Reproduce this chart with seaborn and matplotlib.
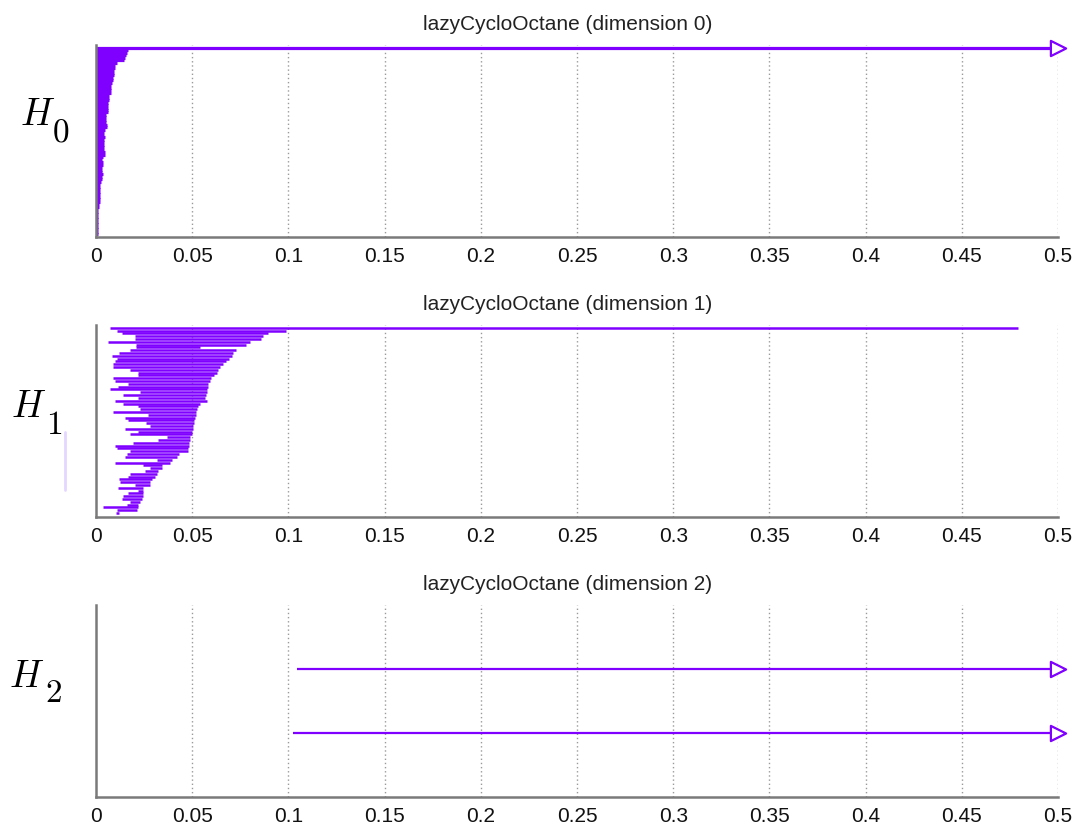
import numpy as np
import pandas as pd
import matplotlib
matplotlib.use("Agg")
import matplotlib.pyplot as plt
import seaborn as sns

# ---- data -------------------------------------------------------------
dataset_name = "lazyCycloOctane"
x_ticks = [0, 0.05, 0.1, 0.15, 0.2, 0.25, 0.3, 0.35, 0.4, 0.45, 0.5]
x_tick_labels = ["0", "0.05", "0.1", "0.15", "0.2", "0.25", "0.3",
                 "0.35", "0.4", "0.45", "0.5"]
x_max = 0.5

# H0: every class is born at 0; the first one never dies
h0_deaths = [np.inf,
             0.0166, 0.0163, 0.0158, 0.0152, 0.0146, 0.0110, 0.0099, 0.0097,
             0.0095, 0.0094, 0.0093, 0.0087, 0.0086, 0.0085, 0.0080, 0.0079,
             0.0078, 0.0076, 0.0066, 0.0065, 0.0065, 0.0064, 0.0064, 0.0063,
             0.0063, 0.0062, 0.0054, 0.0052, 0.0051, 0.0050, 0.0056, 0.0055,
             0.0048, 0.0044, 0.0043, 0.0045, 0.0044, 0.0043, 0.0042, 0.0043,
             0.0042, 0.0046, 0.0045, 0.0034, 0.0033, 0.0035, 0.0034, 0.0033,
             0.0031, 0.0032, 0.0034, 0.0033, 0.0030, 0.0024, 0.0022, 0.0023,
             0.0022, 0.0021, 0.0022, 0.0020, 0.0021, 0.0019, 0.0014, 0.0013,
             0.0012, 0.0011, 0.0012, 0.0011, 0.0010, 0.0010, 0.0011, 0.0010,
             0.0010, 0.0009, 0.0009]
h0_births = [0.0] * len(h0_deaths)

h1_births = [0.0073, 0.0107, 0.0133, 0.0203, 0.0203, 0.0064, 0.0210, 0.0210,
             0.0177, 0.0120, 0.0081, 0.0107, 0.0098, 0.0087, 0.0090, 0.0177,
             0.0220, 0.0220, 0.0090, 0.0099, 0.0168, 0.0116, 0.0073, 0.0229,
             0.0142, 0.0220, 0.0099, 0.0142, 0.0220, 0.0229, 0.0090, 0.0272,
             0.0151, 0.0168, 0.0260, 0.0280, 0.0151, 0.0220, 0.0177, 0.0370,
             0.0324, 0.0190, 0.0099, 0.0107, 0.0177, 0.0160, 0.0151, 0.0315,
             0.0099, 0.0246, 0.0280, 0.0255, 0.0177, 0.0168, 0.0120, 0.0125,
             0.0203, 0.0116, 0.0220, 0.0168, 0.0142, 0.0133, 0.0177, 0.0160,
             0.0038, 0.0107, 0.0104]
h1_deaths = [0.4790, 0.0990, 0.0896, 0.0866, 0.0860, 0.0800, 0.0780, 0.0540,
             0.0730, 0.0714, 0.0705, 0.0690, 0.0676, 0.0662, 0.0645, 0.0636,
             0.0627, 0.0613, 0.0600, 0.0590, 0.0584, 0.0580, 0.0575, 0.0575,
             0.0572, 0.0566, 0.0575, 0.0540, 0.0530, 0.0523, 0.0520, 0.0520,
             0.0515, 0.0510, 0.0510, 0.0506, 0.0506, 0.0500, 0.0497, 0.0490,
             0.0490, 0.0485, 0.0485, 0.0480, 0.0480, 0.0433, 0.0423, 0.0393,
             0.0385, 0.0341, 0.0341, 0.0324, 0.0315, 0.0307, 0.0289, 0.0280,
             0.0280, 0.0246, 0.0246, 0.0246, 0.0243, 0.0237, 0.0229, 0.0220,
             0.0220, 0.0211, 0.0121]

h2_births = [0.1045, 0.1024]
h2_deaths = [np.inf, np.inf]

group_symbol = "H"
group_indices = ["0", "1", "2"]

bar_color = "#8000ff"
axis_gray = "#7a7a7a"

# ---- style ------------------------------------------------------------
sns.set_theme(style="white")
plt.rcParams["font.family"] = ["Liberation Sans", "DejaVu Sans"]
plt.rcParams["mathtext.fontset"] = "cm"

W, H = 1076, 826
fig = plt.figure(figsize=(W / 100, H / 100), dpi=100)


def px_axes(top, bottom, left=96, right=1058):
    return fig.add_axes([left / W, 1 - bottom / H, (right - left) / W,
                         (bottom - top) / H])


def barcode(ax, births, deaths, dim, ylim, lw=1.6):
    df = pd.DataFrame({"birth": births, "death": deaths})
    df["row"] = np.arange(len(df))
    df["infinite"] = ~np.isfinite(df["death"])
    df["end"] = df["death"].where(~df["infinite"], x_max)

    for xt in x_ticks[1:]:
        ax.axvline(xt, color="#9a9a9a", lw=1.0, ls=(0, (1, 2)), zorder=0)

    ax.hlines(df["row"], df["birth"], df["end"], color=bar_color, lw=lw,
              zorder=2)
    inf_rows = df[df["infinite"]]
    if len(inf_rows):
        sns.scatterplot(data=inf_rows, x="end", y="row", marker=">", s=120,
                        facecolor="white", edgecolor=bar_color, linewidth=1.6,
                        ax=ax, zorder=3, clip_on=False, legend=False)

    ax.set_xlim(0, x_max)
    ax.set_ylim(*ylim)
    ax.set_xticks(x_ticks)
    ax.set_xticklabels(x_tick_labels)
    ax.set_yticks([])
    ax.set_xlabel("")
    ax.set_ylabel("")
    ax.tick_params(axis="x", direction="in", length=7, width=1.5,
                   color=axis_gray, labelsize=15, pad=7, labelcolor="#111111")
    sns.despine(ax=ax)
    for side in ("left", "bottom"):
        ax.spines[side].set_color(axis_gray)
        ax.spines[side].set_linewidth(1.8)
    ax.set_title(f"{dataset_name} (dimension {dim})", fontsize=15,
                 color="#222222", pad=11, x=0.49)


ax0 = px_axes(45, 237)
barcode(ax0, h0_births, h0_deaths, 0,
        (len(h0_deaths) - 1 + 1.2, -1.2), lw=2.3)

ax1 = px_axes(325, 517)
barcode(ax1, h1_births, h1_deaths, 1,
        (len(h1_deaths) - 1 + 1.4, -0.96), lw=1.8)

ax2 = px_axes(605, 797)
barcode(ax2, h2_births, h2_deaths, 2, (2, -1), lw=1.6)

# homology group labels: italic H with a full-size index set lower
label_pos = [((20, 125), (52, 141)),
             ((11, 417), (46, 434)),
             ((9, 687), (45, 702))]
for idx, ((hx, hy), (ix, iy)) in zip(group_indices, label_pos):
    fig.text(hx / W, 1 - hy / H, f"${group_symbol}$", fontsize=27,
             ha="left", va="baseline", color="black")
    fig.text(ix / W, 1 - iy / H, rf"$\mathrm{{{idx}}}$", fontsize=24,
             ha="left", va="baseline", color="black")

# faint purple smear beside the H1 label
fig.add_artist(plt.Line2D([65 / W, 65 / W], [1 - 432 / H, 1 - 490 / H],
                          color="#b48cff", lw=2, alpha=0.35))

fig.savefig("out.png", dpi=100)
